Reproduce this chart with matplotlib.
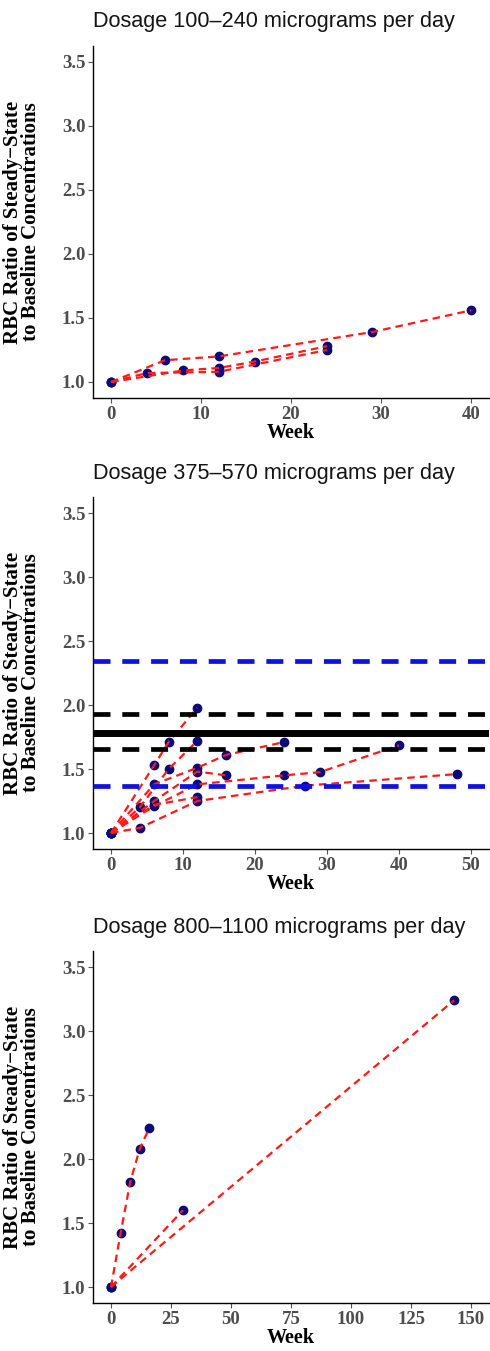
import matplotlib
matplotlib.use("Agg")
import matplotlib.pyplot as plt

# ---------------- data ----------------
titles = ["Dosage 100\u2013240 micrograms per day",
          "Dosage 375\u2013570 micrograms per day",
          "Dosage 800\u20131100 micrograms per day"]

# panel 1 subjects (week, ratio)
p1_weeks = [[0, 6, 12, 29, 40],
            [0, 4, 12, 24],
            [0, 8, 12, 16, 24]]
p1_vals = [[1.00, 1.17, 1.20, 1.39, 1.56],
           [1.00, 1.07, 1.08, 1.25],
           [1.00, 1.09, 1.11, 1.16, 1.28]]

# panel 2 subjects
p2_weeks = [[0, 6, 8, 12],
            [0, 4, 8, 12],
            [0, 6, 12, 16, 24],
            [0, 6, 12, 16],
            [0, 6, 12, 24, 29, 40],
            [0, 4, 12, 27, 48],
            [0, 6, 12]]
p2_vals = [[1.00, 1.53, 1.71, 1.98],
           [1.00, 1.20, 1.50, 1.72],
           [1.00, 1.38, 1.51, 1.61, 1.71],
           [1.00, 1.25, 1.48, 1.45],
           [1.00, 1.21, 1.38, 1.45, 1.475, 1.685],
           [1.00, 1.04, 1.25, 1.37, 1.46],
           [1.00, 1.22, 1.28]]

# panel 2 reference lines
ref_blue = [2.34, 1.365]
ref_black_dashed = [1.93, 1.66]
ref_black_solid = [1.78]

# panel 3 subjects
p3_weeks = [[0, 4, 8, 12, 16],
            [0, 30],
            [0, 143]]
p3_vals = [[1.00, 1.42, 1.82, 2.08, 2.245],
           [1.00, 1.60],
           [1.00, 3.24]]

x_ticks = [[0, 10, 20, 30, 40],
           [0, 10, 20, 30, 40, 50],
           [0, 25, 50, 75, 100, 125, 150]]
x_lims = [(-2, 42), (-2.5, 52.5), (-7.5, 157.5)]
y_ticks = [1.0, 1.5, 2.0, 2.5, 3.0, 3.5]
y_lim = (0.875, 3.625)

# ---------------- figure ----------------
W, H = 490, 1351
fig = plt.figure(figsize=(W / 100, H / 100), dpi=100)

left_px, right_px = 93, 489
panels_px = [(46, 398), (497, 849), (951, 1303)]

serif = ["Liberation Serif", "DejaVu Serif"]
sans = ["Liberation Sans", "DejaVu Sans"]

all_weeks = [p1_weeks, p2_weeks, p3_weeks]
all_vals = [p1_vals, p2_vals, p3_vals]

for i, (top, bot) in enumerate(panels_px):
    ax = fig.add_axes([left_px / W, (H - bot) / H,
                       (right_px - left_px) / W, (bot - top) / H])
    for wk, vl in zip(all_weeks[i], all_vals[i]):
        ax.plot(wk, vl, color="#0a0a7a", marker="o", markersize=6,
                linestyle="none", zorder=3)
        ax.plot(wk, vl, color="#ff1a1a", lw=1.6,
                linestyle=(0, (3.4, 2.3)), zorder=4)
    if i == 1:
        for v in ref_blue:
            ax.axhline(v, color="#1010e0", lw=3.4,
                       linestyle=(0, (3.6, 2.5)), zorder=5)
        for v in ref_black_dashed:
            ax.axhline(v, color="black", lw=3.4,
                       linestyle=(0, (3.6, 2.5)), zorder=5)
        for v in ref_black_solid:
            ax.axhline(v, color="black", lw=5.0, zorder=5)

    ax.set_xlim(*x_lims[i])
    ax.set_ylim(*y_lim)
    ax.set_xticks(x_ticks[i])
    ax.set_yticks(y_ticks)
    ax.set_yticklabels([f"{t:.1f}" for t in y_ticks])
    for s in ["top", "right"]:
        ax.spines[s].set_visible(False)
    for s in ["left", "bottom"]:
        ax.spines[s].set_linewidth(1.0)
        ax.spines[s].set_color("black")
    ax.tick_params(axis="both", direction="out", length=3.5, width=0.8,
                   color="#555555", labelcolor="#4d4d4d", labelsize=13.5, pad=2)
    for lab in ax.get_xticklabels() + ax.get_yticklabels():
        lab.set_family(serif)
        lab.set_fontweight("bold")

    ax.set_xlabel("Week", family=serif, fontweight="bold", fontsize=14.5,
                  labelpad=0)
    ax.set_ylabel("RBC Ratio of Steady\u2212State\nto Baseline Concentrations",
                  family=serif, fontweight="bold", fontsize=15,
                  linespacing=0.85)
    ax.yaxis.set_label_coords(-0.132, 0.5)
    ax.text(0.0, 1 + 24 / (bot - top), titles[i], transform=ax.transAxes,
            ha="left", va="center", family=sans, fontsize=15.6, color="#151515")

fig.savefig("out.png", dpi=100)
